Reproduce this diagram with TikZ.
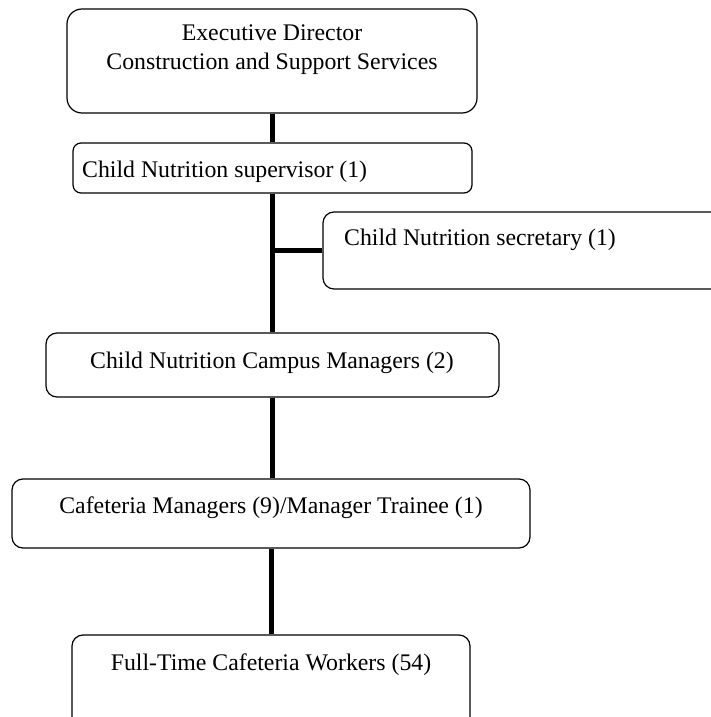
\documentclass[tikz,border=0pt]{standalone}
\usepackage{fontspec}
\setmainfont{Liberation Serif}
\begin{document}
\begin{tikzpicture}[x=1pt, y=-1pt,
  box/.style={draw, line width=1.2pt, rounded corners=11pt, inner sep=0pt,
              minimum width=#1},
  box/.default=100pt,
  link/.style={line width=5pt},
  txt/.style={anchor=base, inner sep=0pt, font=\fontsize{23.8}{29}\selectfont}]
  \useasboundingbox (0,0) rectangle (711,717);
  \clip (0,0) rectangle (711,717);

  % boxes (centre, width, height)
  \node[box=410pt, minimum height=104pt, rounded corners=15pt] (exec) at (272,61) {};
  \node[box=399pt, minimum height=50pt, rounded corners=8pt] (sup) at (272.5,168) {};
  \node[box=437pt, minimum height=77pt] (sec) at (541.5,250.5) {};
  \node[box=453pt, minimum height=64pt] (campus) at (272.5,365) {};
  \node[box=518pt, minimum height=69pt] (caf) at (271,513.5) {};
  \node[box=398pt, minimum height=95pt] (ft) at (271,682.5) {};

  % labels
  \node[txt] (execA) at (272,41) {Executive Director};
  \node[txt] (execB) at (272,70) {Construction and Support Services};
  \node[txt, anchor=base west] (supT) at (82,177) {Child Nutrition supervisor (1)};
  \node[txt, anchor=base west] (secT) at (344,245) {Child Nutrition secretary (1)};
  \node[txt] (campusT) at (272,368) {Child Nutrition Campus Managers (2)};
  \node[txt] (cafT) at (271,513) {Cafeteria Managers (9)/Manager Trainee (1)};
  \node[txt] (ftT) at (271,670) {Full-Time Cafeteria Workers (54)};

  % reporting lines
  \draw[link] (exec.south) -- (exec.south |- sup.north);
  \draw[link] (sup.south) -- (sup.south |- campus.north);
  \draw[link] (sec.west) -- (sec.west -| sup.south);
  \draw[link] (campus.south) -- (campus.south |- caf.north);
  \draw[link] (caf.south) -- (caf.south |- ft.north);
\end{tikzpicture}
\end{document}
